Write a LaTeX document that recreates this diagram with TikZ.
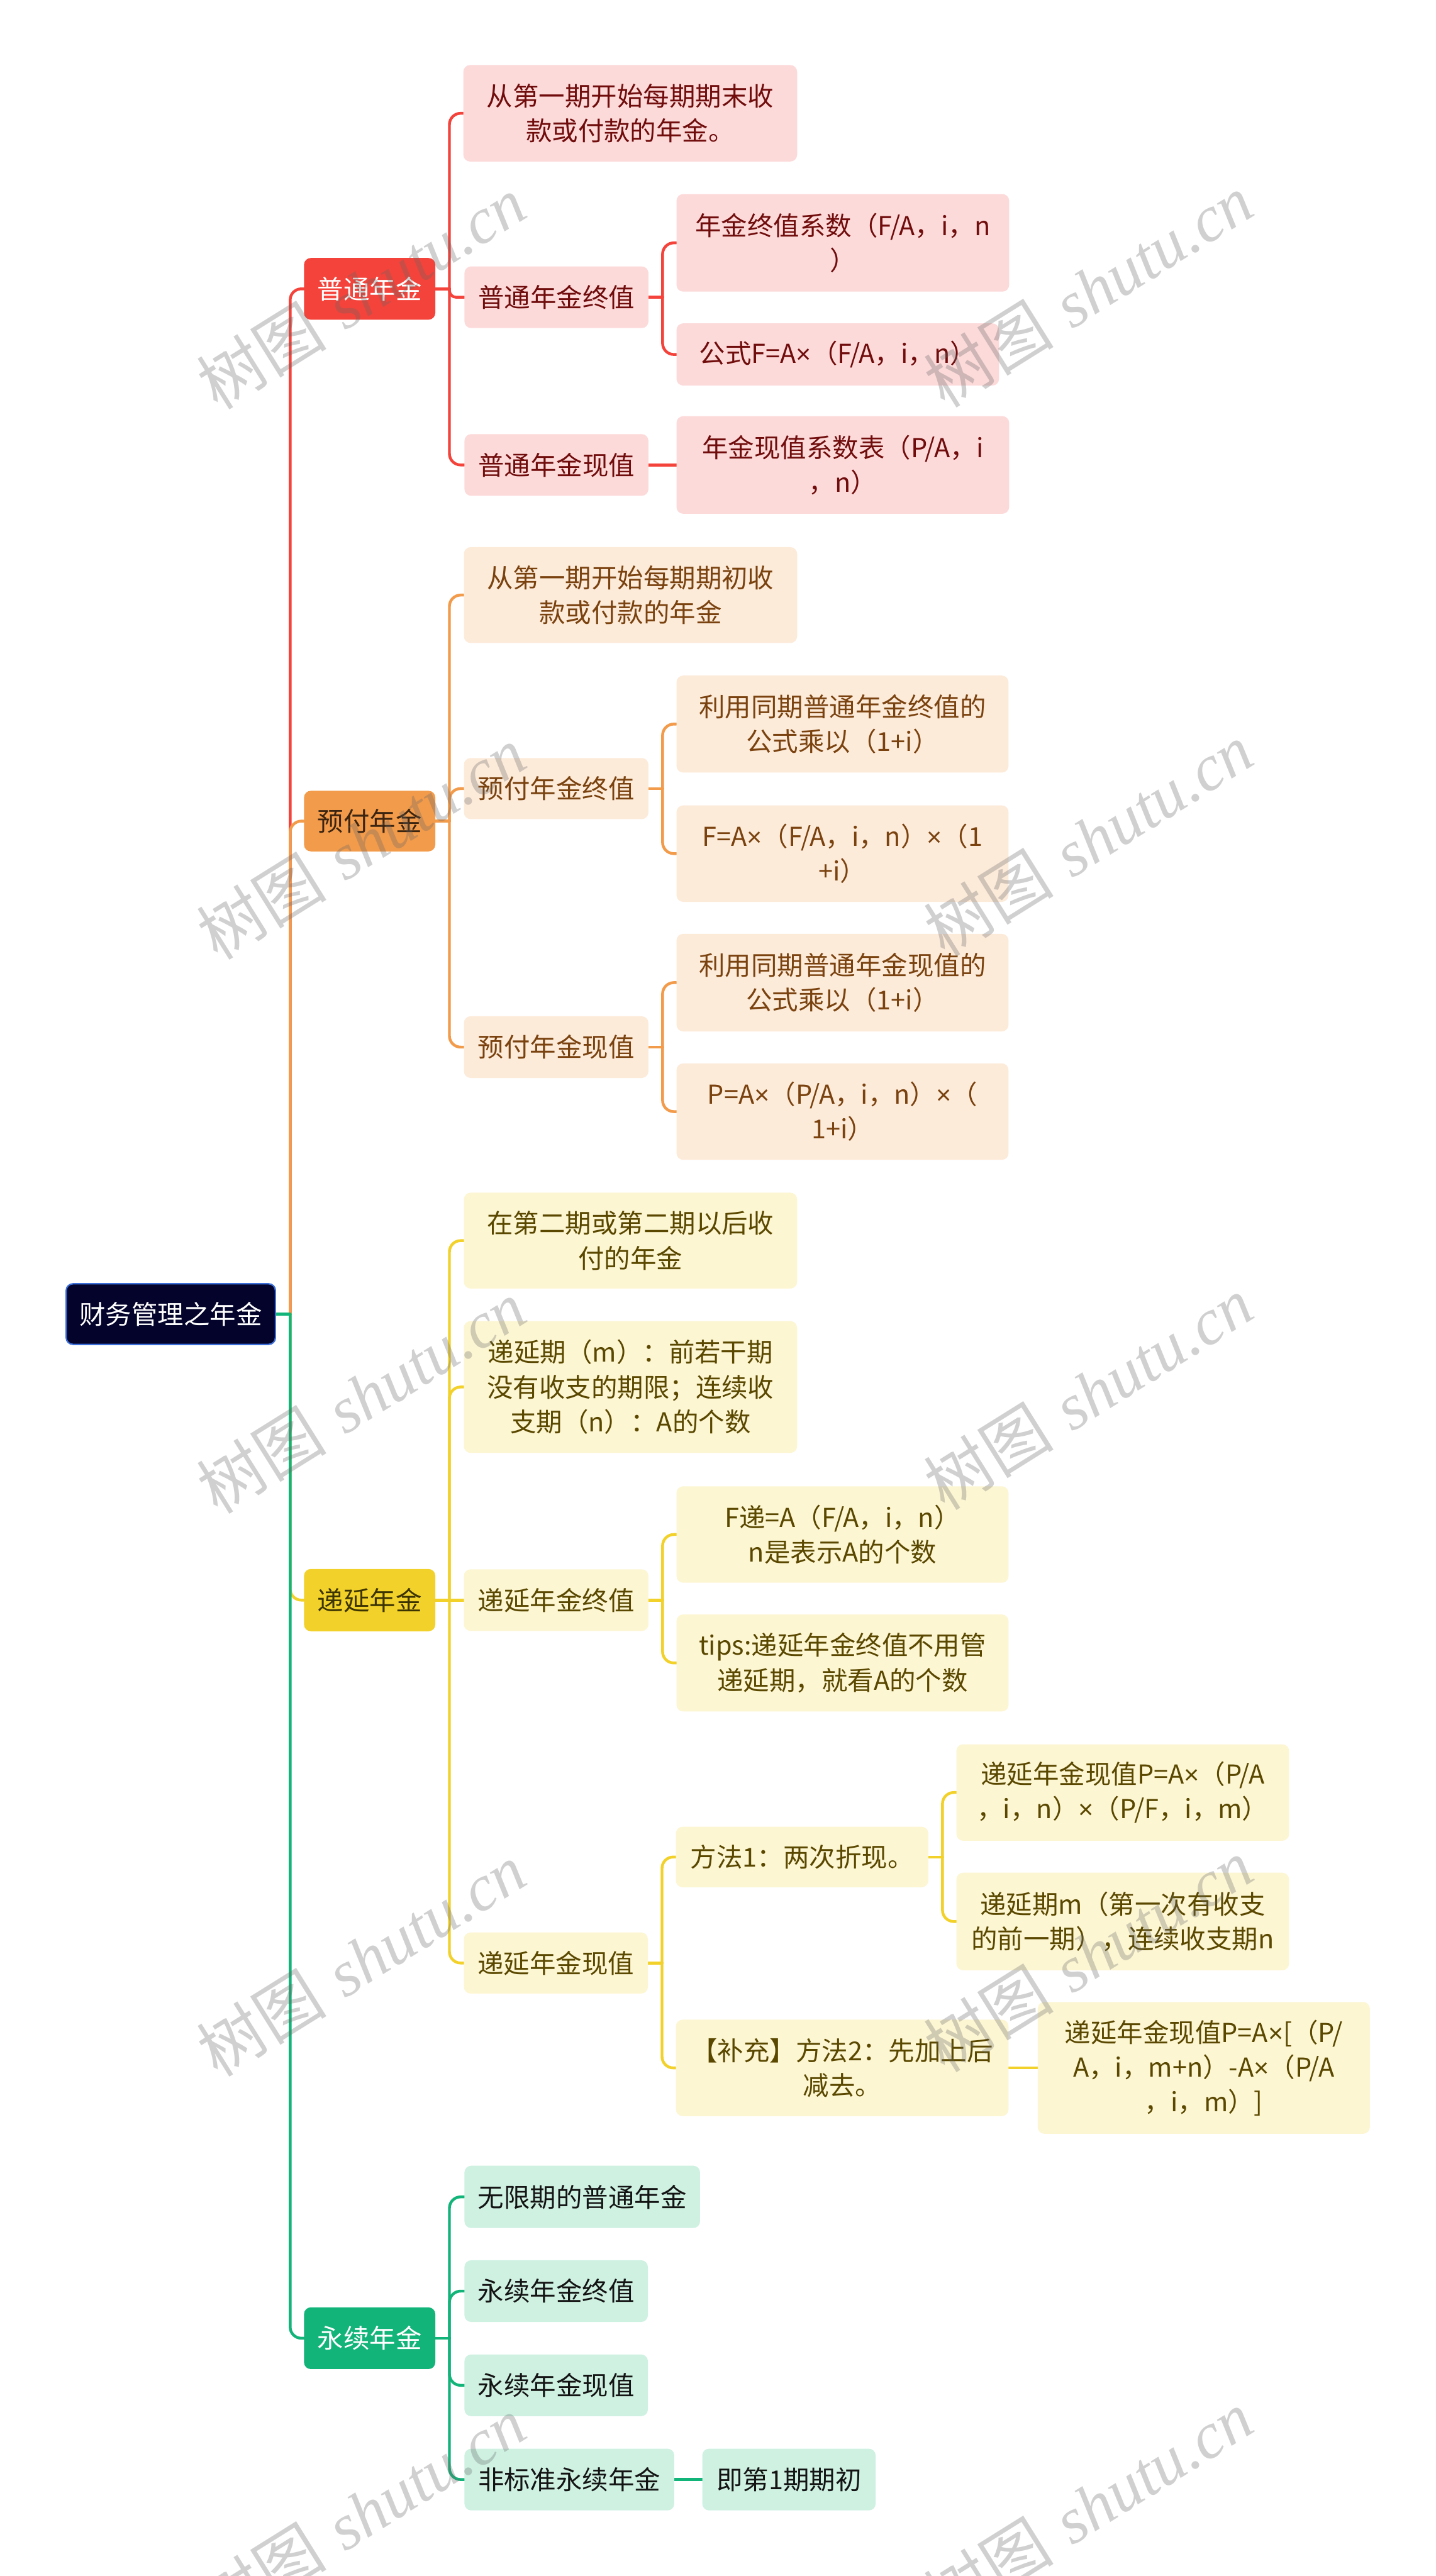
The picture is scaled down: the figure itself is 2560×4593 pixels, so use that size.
\documentclass[tikz,border=0pt]{standalone}
\usepackage{fontspec}
\newfontfamily\cjk{Noto Sans CJK SC}
\newfontfamily\wmfont{Liberation Serif}
\newfontfamily\lat{Liberation Sans}
\pgfdeclarelayer{bg}
\pgfsetlayers{bg,main}
\definecolor{rootfill}{HTML}{03032B}
\definecolor{rootline}{HTML}{3C6FD9}
\definecolor{redM}{HTML}{F4433B}
\definecolor{oraM}{HTML}{F29B4B}
\definecolor{yelM}{HTML}{F2D12B}
\definecolor{grnM}{HTML}{12B47A}
\definecolor{redL}{HTML}{FDDADA}
\definecolor{oraL}{HTML}{FDEBDA}
\definecolor{yelL}{HTML}{FDF6D3}
\definecolor{grnL}{HTML}{CEF1E2}
\definecolor{redT}{HTML}{700C0C}
\definecolor{oraT}{HTML}{7A420F}
\definecolor{yelT}{HTML}{5A4800}
\definecolor{grnT}{HTML}{141414}
\definecolor{oraMT}{HTML}{3B2410}
\definecolor{yelMT}{HTML}{3B3300}
\newcommand\nf{\cjk\fontsize{46.5pt}{62pt}\selectfont}
\newcommand\tm{{\lat ×}}
\newcommand\br[4][20]{%
  \draw[conn,#2] (#3.east) -- ++(25,0) coordinate (j);
  \draw[conn,#2,rounded corners=#1pt] (j) |- (#4.west);}
\begin{document}
\begin{tikzpicture}[x=1pt,y=-1pt,
  box/.style={rounded corners=12pt,inner sep=0pt,align=center,font=\nf},
  rootbox/.style={box,fill=rootfill,draw=rootline,line width=2.5pt,text=white},
  lA/.style={box,fill=redM,text=white},
  lB/.style={box,fill=oraM,text=oraMT},
  lC/.style={box,fill=yelM,text=yelMT},
  lD/.style={box,fill=grnM,text=white},
  sA/.style={box,fill=redL,text=redT},
  sB/.style={box,fill=oraL,text=oraT},
  sC/.style={box,fill=yelL,text=yelT},
  sD/.style={box,fill=grnL,text=grnT},
  conn/.style={line width=5pt,line cap=round},
  cA/.style={draw=redM},
  cB/.style={draw=oraM},
  cC/.style={draw=yelM},
  cD/.style={draw=grnM},
  wm/.style={text=black!60,text opacity=0.3,rotate=32,inner sep=0pt,font=\fontsize{116pt}{120pt}\selectfont}
]
\useasboundingbox (0,0) rectangle (2560,4593);
\begin{pgfonlayer}{bg}
\fill[white] (0,0) rectangle (2560,4593);
\end{pgfonlayer}

% root and main branches
\node[rootbox,minimum width=373pt,minimum height=108pt] (root) at (304.5,2343) {财务管理之年金};
\node[lA,minimum width=234pt,minimum height=110pt] (A) at (659,515) {普通年金};
\node[lB,minimum width=234pt,minimum height=108pt] (B) at (659,1464) {预付年金};
\node[lC,minimum width=234pt,minimum height=111pt] (C) at (659,2853) {递延年金};
\node[lD,minimum width=234pt,minimum height=110pt] (D) at (659,4169) {永续年金};

% branch A
\node[sA,minimum width=595pt,minimum height=172pt] (A1) at (1123.5,202) {从第一期开始每期期末收\\款或付款的年金。};
\node[sA,minimum width=328pt,minimum height=110pt] (A2) at (992,530) {普通年金终值};
\node[sA,minimum width=328pt,minimum height=110pt] (A3) at (992,829) {普通年金现值};
\node[sA,minimum width=593pt,minimum height=174pt] (A2a) at (1502.5,433) {年金终值系数（F/A，i，n\\）};
\node[sA,minimum width=575pt,minimum height=111pt] (A2b) at (1493.5,632) {公式F=A\tm（F/A，i，n）};
\node[sA,minimum width=593pt,minimum height=174pt] (A3a) at (1502.5,829) {年金现值系数表（P/A，i\\，n）};

% branch B
\node[sB,minimum width=594pt,minimum height=171pt] (B1) at (1124,1061) {从第一期开始每期期初收\\款或付款的年金};
\node[sB,minimum width=329pt,minimum height=109pt] (B2) at (991.5,1406) {预付年金终值};
\node[sB,minimum width=329pt,minimum height=110pt] (B3) at (991.5,1867) {预付年金现值};
\node[sB,minimum width=592pt,minimum height=173pt] (B2a) at (1502,1291) {利用同期普通年金终值的\\公式乘以（1+i）};
\node[sB,minimum width=592pt,minimum height=172pt] (B2b) at (1502,1522) {F=A\tm（F/A，i，n）\tm（1\\+i）};
\node[sB,minimum width=592pt,minimum height=174pt] (B3a) at (1502,1752) {利用同期普通年金现值的\\公式乘以（1+i）};
\node[sB,minimum width=592pt,minimum height=172pt] (B3b) at (1502,1982) {P=A\tm（P/A，i，n）\tm（\\1+i）};

% branch C
\node[sC,minimum width=594pt,minimum height=171pt] (C1) at (1124,2212) {在第二期或第二期以后收\\付的年金};
\node[sC,minimum width=594pt,minimum height=235pt] (C2) at (1124,2473) {递延期（m）：前若干期\\没有收支的期限；连续收\\支期（n）：A的个数};
\node[sC,minimum width=329pt,minimum height=110pt] (C3) at (991.5,2853) {递延年金终值};
\node[sC,minimum width=328pt,minimum height=109pt] (C4) at (991,3500) {递延年金现值};
\node[sC,minimum width=592pt,minimum height=172pt] (C3a) at (1502,2736) {F递=A（F/A，i，n）\\n是表示A的个数};
\node[sC,minimum width=592pt,minimum height=173pt] (C3b) at (1502,2965) {tips:递延年金终值不用管\\递延期，就看A的个数};
\node[sC,minimum width=450pt,minimum height=108pt] (C4a) at (1430,3311) {方法1：两次折现。};
\node[sC,minimum width=593pt,minimum height=172pt] (C4b) at (1501.5,3687) {【补充】方法2：先加上后\\减去。};
\node[sC,minimum width=593pt,minimum height=172pt] (C4a1) at (2001.5,3196) {递延年金现值P=A\tm（P/A\\，i，n）\tm（P/F，i，m）};
\node[sC,minimum width=593pt,minimum height=174pt] (C4a2) at (2001.5,3426) {递延期m（第一次有收支\\的前一期），连续收支期n};
\node[sC,minimum width=592pt,minimum height=235pt] (C4b1) at (2146,3687) {递延年金现值P=A\tm[（P/\\A，i，m+n）-A\tm（P/A\\，i，m）]};

% branch D
\node[sD,minimum width=420pt,minimum height=111pt] (D1) at (1038,3917) {无限期的普通年金};
\node[sD,minimum width=327pt,minimum height=110pt] (D2) at (991.5,4085) {永续年金终值};
\node[sD,minimum width=327pt,minimum height=110pt] (D3) at (991.5,4253) {永续年金现值};
\node[sD,minimum width=374pt,minimum height=110pt] (D4) at (1015,4421) {非标准永续年金};
\node[sD,minimum width=309pt,minimum height=110pt] (D4a) at (1406.5,4421) {即第1期期初};

\begin{pgfonlayer}{bg}
% trunk
\br{cA}{root}{A}
\br{cB}{root}{B}
\br{cC}{root}{C}
\br{cD}{root}{D}
% A
\br{cA}{A}{A1}
\br[12]{cA}{A}{A2}
\br{cA}{A}{A3}
\br{cA}{A2}{A2a}
\br{cA}{A2}{A2b}
\draw[conn,cA] (A3.east) -- (A3a.west);
% B
\br{cB}{B}{B1}
\br{cB}{B}{B2}
\br{cB}{B}{B3}
\br{cB}{B2}{B2a}
\br{cB}{B2}{B2b}
\br{cB}{B3}{B3a}
\br{cB}{B3}{B3b}
% C
\br{cC}{C}{C1}
\br{cC}{C}{C2}
\draw[conn,cC] (C.east) -- (C3.west);
\br{cC}{C}{C4}
\br{cC}{C3}{C3a}
\br{cC}{C3}{C3b}
\br{cC}{C4}{C4a}
\br{cC}{C4}{C4b}
\br{cC}{C4a}{C4a1}
\br{cC}{C4a}{C4a2}
\draw[conn,cC] (C4b.east) -- (C4b1.west);
% D
\br{cD}{D}{D1}
\br{cD}{D}{D2}
\br{cD}{D}{D3}
\br{cD}{D}{D4}
\draw[conn,cD] (D4.east) -- (D4a.west);
\end{pgfonlayer}

% watermarks
\foreach \wx/\wy [count=\k] in {644/521,1940/518,644/1503,1940/1497,644/2490,1940/2484,644/3494,1940/3486,644/4481,1940/4470}{
  \node[wm] (wm\k) at (\wx,\wy) {{\cjk 树图} {\wmfont\itshape shutu.cn}};
}
\end{tikzpicture}
\end{document}
